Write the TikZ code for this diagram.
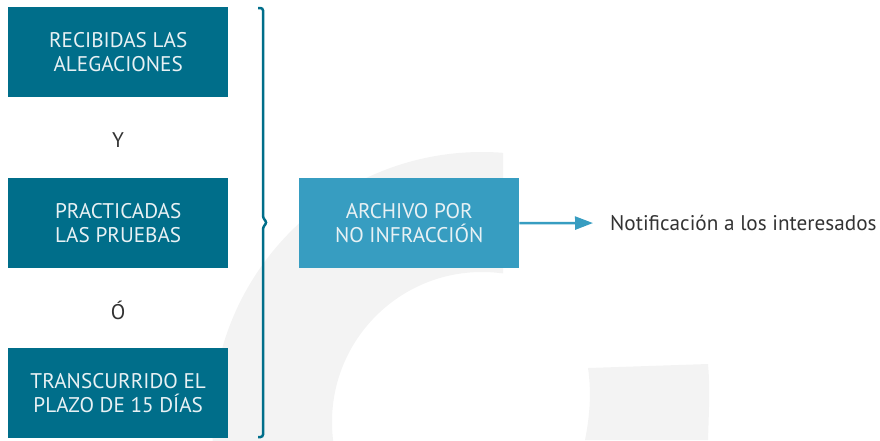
\documentclass[tikz,border=0pt]{standalone}
\usepackage{fontspec}
\setmainfont{PT Sans}
\usetikzlibrary{arrows.meta}
\definecolor{dteal}{RGB}{0,110,138}
\definecolor{lblue}{RGB}{55,157,193}
\definecolor{wm}{RGB}{243,243,243}
\definecolor{txt}{RGB}{51,51,51}
\definecolor{boxtxt}{RGB}{232,241,244}
\begin{document}
\begin{tikzpicture}[x=1pt,y=-1pt,
  boxbase/.style={minimum width=220pt, minimum height=90pt, inner sep=0pt,
    anchor=north west, text=boxtxt, align=center,
    font=\fontsize{21.2}{23.5}\selectfont},
  darkbox/.style={boxbase, fill=dteal},
  lightbox/.style={boxbase, fill=lblue},
  conj/.style={text=txt, font=\fontsize{21.2}{23.5}\selectfont, inner sep=0pt},
  bracestyle/.style={draw=dteal, line width=2.5pt, rounded corners=2.5pt},
  arrowstyle/.style={draw=lblue, line width=2.5pt, -{Triangle[length=18pt,width=13pt]}}
]
\useasboundingbox (0,0) rectangle (880,440);
% watermark
\begin{scope}
  \clip (0,0) rectangle (503,440);
  \fill[wm, even odd rule] (482,422) circle[radius=270pt] (482,422) circle[radius=150pt];
\end{scope}
\fill[wm] (588,368) .. controls (592,395) and (589,420) .. (585,440) -- (708,440)
  .. controls (709,410) and (710,385) .. (708,364) -- cycle;
% boxes
\node[darkbox] (b1) at (8,7) {RECIBIDAS LAS\\ALEGACIONES};
\node[darkbox] (b2) at (8,178) {PRACTICADAS\\LAS PRUEBAS};
\node[darkbox] (b3) at (8,348) {TRANSCURRIDO EL\\PLAZO DE 15 DÍAS};
\node[conj] (y) at (118,140) {Y};
\node[conj] (o) at (118,310) {Ó};
\node[lightbox] (b4) at (299,178) {ARCHIVO POR\\NO INFRACCIÓN};
\node[conj, anchor=west] (note) at (610,223) {Notificación a los interesados};
% brace
\coordinate (bt) at (258,8);
\coordinate (bb) at (258,437);
\draw[bracestyle] (bt) -- (263,8) -- (263,218) -- (267,222.5) -- (263,227) -- (263,437) -- (bb);
% arrow
\draw[arrowstyle, shorten >=17pt] (b4.east) -- (note.west);
\end{tikzpicture}
\end{document}
